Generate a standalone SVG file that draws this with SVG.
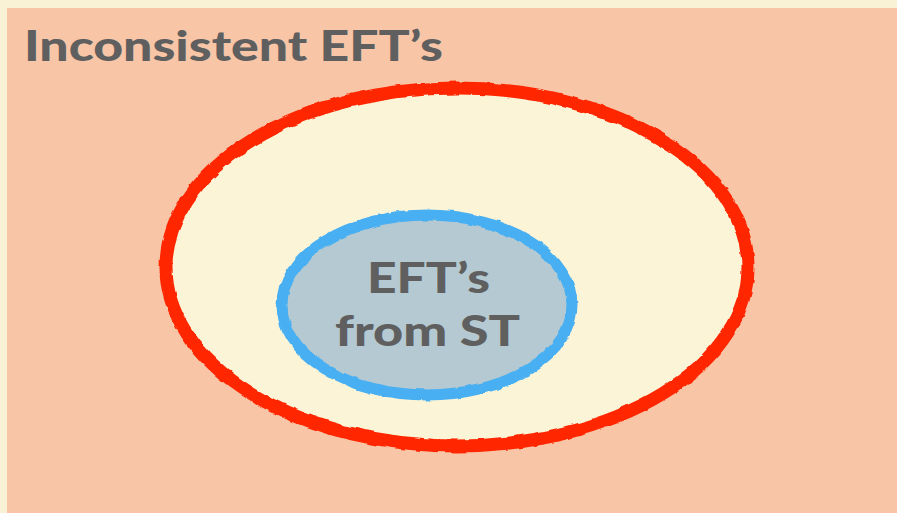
<svg xmlns="http://www.w3.org/2000/svg" width="897" height="513" viewBox="0 0 897 513">
<defs>
<filter id="rough" x="-10%" y="-10%" width="120%" height="120%">
<feTurbulence type="fractalNoise" baseFrequency="0.08" numOctaves="2" seed="3" result="n"/>
<feDisplacementMap in="SourceGraphic" in2="n" scale="4" xChannelSelector="R" yChannelSelector="G"/>
</filter>
</defs>
<style>
.lbl{font-family:Lato,"Open Sans","Liberation Sans",sans-serif;font-weight:900;fill:#5f5f5f;}
</style>
<rect x="0" y="0" width="897" height="513" fill="#faf2d4"/>
<rect x="7" y="8" width="890" height="505" fill="#f8c5a6"/>
<text class="lbl" x="24" y="61" font-size="42" textLength="419" lengthAdjust="spacingAndGlyphs">Inconsistent EFT’s</text>
<g id="outer">
<ellipse cx="457" cy="267" rx="291" ry="179" fill="#fbf4d6" stroke="#ff2600" stroke-width="13" filter="url(#rough)"/>
</g>
<g id="inner">
<ellipse cx="427" cy="305" rx="145" ry="90" fill="#b4c9d2" stroke="#46aff2" stroke-width="11" filter="url(#rough)"/>
<text class="lbl" x="367" y="293" font-size="42" textLength="123" lengthAdjust="spacingAndGlyphs">EFT’s</text>
<text class="lbl" x="335" y="346" font-size="42" textLength="185" lengthAdjust="spacingAndGlyphs">from ST</text>
</g>
<g id="connectors"/>
</svg>
